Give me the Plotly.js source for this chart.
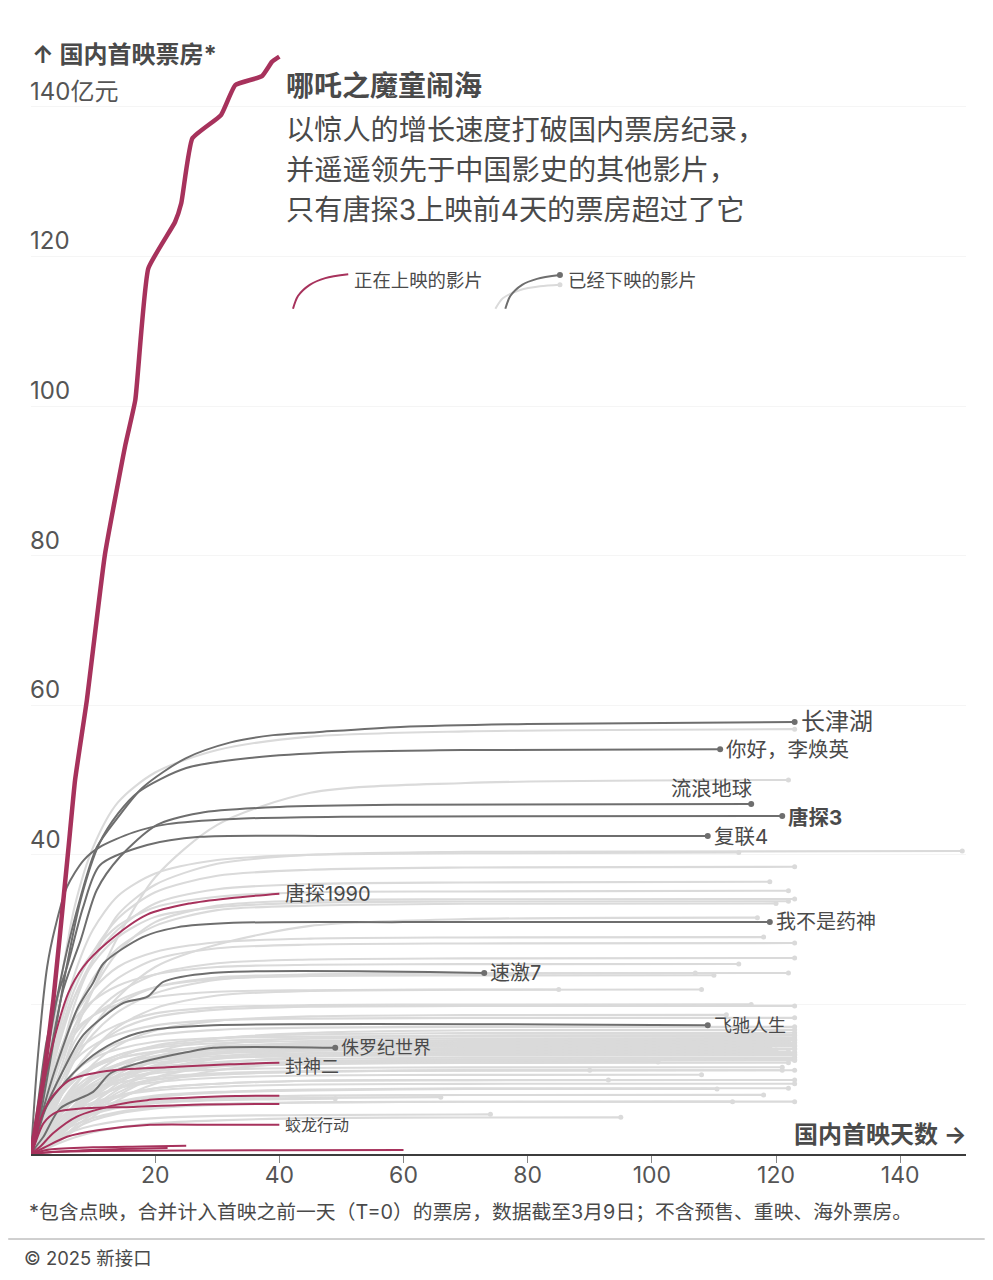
<!DOCTYPE html>
<html><head><meta charset="utf-8">
<script src="https://cdn.plot.ly/plotly-3.0.1.min.js"></script>
<style>html,body{margin:0;padding:0;background:#fff}</style></head>
<body><div id="chart" style="width:993px;height:1280px"></div>
<script>
const FONT = 'Inter, "Noto Sans CJK SC", sans-serif';
const xTicks = [20,40,60,80,100,120,140];
const yTicks = [40,60,80,100,120,140];
const yGrid = [20,40,60,80,100,120,140];

const nezhaDays = [0,1,2,3.6,6,7.1,9,11.9,15.2,16.8,18.9,23.2,24.2,26,30.6,32.9,37.2,38.8,40];
const nezhaVals = [0,4.9,10,20.6,40.6,50,60.7,80.1,94.8,100.8,118.4,124.6,127.1,135.8,138.9,142.9,144.1,146,146.7];

const darkNames = ['长津湖','你好，李焕英','流浪地球','唐探3','复联4','我不是药神','速激7','飞驰人生','侏罗纪世界'];
const darkDays = [
 [0,1,2.5,5.2,8,10.6,14,18,24.9,32,39,46,59.5,80,123],
 [0,1,3,5.5,8,11,14,17.3,25,36,49,70,111],
 [0,1,3,5.2,8,10.6,14.3,20.3,27.2,40,60,116],
 [0,1,2.6,3.9,5.8,8.5,11,16.5,22,32.6,50,121],
 [0,1,2.5,4.4,5.8,8.4,11.1,18.7,27.2,50,109],
 [0,1,3,5,7.5,10,11.7,18,23.5,32.6,60,119],
 [0,1,2,5.2,8.4,14.9,18.7,21.3,29,73],
 [0,1,2.5,5.8,10,14.9,19.7,29.4,109],
 [0,1,2,4.7,10,12.8,18,25,29.4,49]
];
const darkVals = [
 [0,5,13,25,34.4,41,45,49,52.9,55,56,56.4,57.1,57.5,57.75],
 [0,3,12,24,34,41.5,45.5,48.4,51.6,53,53.7,54,54.1],
 [0,4,13,22,28.6,35.3,39.7,44,45.6,46.4,46.7,46.8],
 [0,12,25,30.3,35.7,39.3,41,43,44.1,44.8,45.1,45.2],
 [0,6,15,21.5,25,33,38.6,41.3,42.4,42.5,42.5],
 [0,3,9,14,19.5,22.9,25.5,29,30.3,30.9,31,31],
 [0,3,5.5,11.2,15.9,20.2,21,23,24.2,24.2],
 [0,2.5,6.3,9.9,13.2,15.5,16.6,17.2,17.2],
 [0,1.2,2.3,6.1,8.3,10.8,12.3,13.6,14.2,14.2]
];

const redNames = ['唐探1990','封神二','','','蛟龙行动','','',''];
const redDays = [
 [0,1,3,6,8.4,12.2,18.7,25.6,32,40],
 [0,0.5,1.5,3,6.3,12.2,21.9,32,40],
 [0,1.5,3.6,7.4,13.9,18.7,24.6,33,40],
 [0,0.5,2,4.1,8.4,16.5,26,40],
 [0,2,5.8,11,19.2,30,40],
 [0,3,10,18,25],
 [0,3,10,40,60],
 [0,4,12,22]
];
const redVals = [
 [0,5,13,21.5,25,28.2,32,33.5,34.2,34.8],
 [0,1.2,4.5,7.2,9.9,11.1,11.6,12,12.2],
 [0,1,2.8,5,6.6,7.2,7.5,7.75,7.8],
 [0,1,4.1,5.6,6.1,6.3,6.6,6.7],
 [0,0.8,2.3,3.2,3.9,3.9,3.9],
 [0,0.6,0.9,1,1.1],
 [0,0.25,0.4,0.5,0.55],
 [0,0.3,0.6,0.8]
];

const greyDays = [0,1,2,3,5,7,10,14,20,30,45,70];
const greyEndDays = [123,122,114,150,123,119,122,123,122,120,117,118,123,123,114,122,110,107,85,108,
 116,123,123,112,123,123,123,123,123,122,123,123,119,123,120,123,123,123,123,114,
 101,122,121,121,123,90,108,123,123,93,122,110.5,118,123,113,95,74,66,49,123,
 123,123,123,123,123,122,123,123,123,123];
const greyEndVals = [56.8,50,40.3,40.5,38.4,36.4,35.2,34.1,33.8,33.5,31.6,29,28.2,26.2,25.4,24.2,23.9,24.2,22,22,
 20,19.8,18.2,18.6,17,16.2,15.8,15.5,15.2,15,14.7,14.4,14.2,14,13.9,13.6,13.4,13.2,12.9,14.6,
 12.3,12.2,11.6,11.2,11.2,11.2,10.6,9.9,9.4,9.9,8.8,8.7,7.9,7,7,4.9,5.3,7.6,7.4,12.5,
 15.9,15.3,14.9,14.5,14.1,13.7,13.3,12.7,16.6,12.6];
const greyCurves = [
 [4,9,14,24,33,41,47,51,54,55.8,56.5],
 [1.5,3.5,6,11,16,22,29,37,44,48.3,49.6],
 [3,7,11,18,24,30,34.5,37.5,39.3,40,40.2],
 [2,5,8,14,20,26,32,36,38.8,40,40.4],
 [3,7,11,17,22,27,31.5,35,37.2,38,38.3],
 [2.5,6,10,16,21,26,30,33.5,35.4,36.1,36.3],
 [4,8,12,18,23,27,30.5,33,34.4,35,35.1],
 [1.5,4,7,12,17,22,27,31,33.2,33.9,34.05],
 [3,7,10.5,16.5,21,25.5,29,31.7,33,33.6,33.75],
 [2,5,8,13.5,18.5,23.5,27.5,30.5,32.6,33.2,33.45],
 [1,3,5,9,13,17,21,25,28,30.5,31.4],
 [2.5,6,9,14.5,18.5,22,25,27,28.3,28.8,28.95],
 [2,5,8,13,17,20.5,23.5,26,27.5,28,28.15],
 [1.5,4,6.5,11,15,18.5,21.5,24,25.5,26,26.15],
 [3,6.5,9.5,14.5,18,20.5,22.5,24,25,25.3,25.38],
 [1,3,5,9,12.5,16,19,21.5,23.3,24,24.15],
 [2.5,5.5,8.5,13,16,18.5,20.5,22.3,23.4,23.8,23.88],
 [1.5,3.5,6,10,13.5,17,20,22.3,23.6,24,24.15],
 [3,6,9,13.5,16.5,18.5,20,21,21.7,21.9,22],
 [1,2.5,4.5,8,11,14,17,19.5,21.2,21.8,21.95],
 [2,4.5,7,11,13.5,15.5,17.3,18.8,19.6,19.9,19.98],
 [1,2.5,4.5,8,11,14,16.5,18.3,19.3,19.7,19.78],
 [2,4.5,6.5,10,12.5,14.5,16,17.2,17.9,18.1,18.18],
 [0.8,2,3.5,6.5,9,12,14.5,16.5,17.8,18.4,18.56],
 [1.6,3.5,5.5,8.5,11,13,14.8,15.9,16.6,16.9,16.98],
 [0.6,1.5,3,5.5,8,10.5,12.8,14.5,15.5,16,16.16],
 [2,4,6,9,11,12.8,14,15,15.5,15.7,15.78],
 [1,2.5,4,7,9.3,11.5,13.2,14.4,15.1,15.4,15.48],
 [1.5,3.3,5,8,10,11.8,13.2,14.2,14.8,15.1,15.18],
 [0.7,1.8,3,5.5,7.8,10,12,13.5,14.4,14.8,14.97],
 [1.8,3.6,5.2,8,9.8,11.5,12.8,13.7,14.3,14.6,14.68],
 [1,2.3,3.6,6.2,8.2,10.2,11.8,13.1,13.9,14.3,14.38],
 [0.5,1.2,2.3,4.5,6.6,9,11,12.7,13.6,14,14.18],
 [1.4,2.8,4.4,7,8.8,10.6,12,13,13.6,13.9,13.98],
 [0.8,2,3.2,5.6,7.6,9.5,11.2,12.6,13.4,13.8,13.88],
 [1.2,2.6,4,6.5,8.2,10,11.4,12.5,13.1,13.5,13.58],
 [0.4,1,2,4,6,8.2,10.2,11.8,12.8,13.2,13.38],
 [1.5,3,4.5,6.8,8.5,10,11.2,12.2,12.8,13.1,13.18],
 [0.9,2,3.2,5.4,7.2,9,10.4,11.6,12.3,12.7,12.88],
 [2,4,5.8,8.5,10.2,11.6,12.8,13.6,14.2,14.5,14.58],
 [1.3,2.7,4,6.2,7.8,9.2,10.4,11.3,11.9,12.2,12.28],
 [0.6,1.5,2.6,4.6,6.4,8.2,9.8,11,11.7,12,12.18],
 [1.1,2.4,3.6,5.6,7.2,8.7,9.9,10.8,11.3,11.5,11.58],
 [0.5,1.2,2.2,4,5.6,7.4,8.9,10,10.7,11,11.18],
 [1.4,2.8,4,5.9,7.2,8.5,9.5,10.3,10.8,11.1,11.18],
 [0.8,1.8,2.8,4.6,6,7.5,8.8,9.9,10.6,11,11.18],
 [1,2.1,3.2,5,6.4,7.7,8.8,9.6,10.2,10.5,10.58],
 [0.7,1.5,2.4,4,5.3,6.6,7.8,8.8,9.4,9.8,9.88],
 [1,2,3,4.6,5.8,6.9,7.8,8.5,9,9.3,9.38],
 [0.5,1.1,1.9,3.4,4.8,6.2,7.6,8.8,9.4,9.8,9.88],
 [0.8,1.6,2.4,3.9,5,6.1,7,7.8,8.3,8.6,8.78],
 [0.4,1,1.7,3,4.2,5.5,6.7,7.6,8.2,8.5,8.68],
 [0.7,1.4,2.2,3.6,4.6,5.6,6.4,7,7.5,7.8,7.88],
 [0.3,0.8,1.3,2.4,3.4,4.5,5.4,6.1,6.6,6.9,6.98],
 [0.6,1.2,1.8,3,3.9,4.8,5.6,6.2,6.7,6.9,6.98],
 [0.2,0.5,0.9,1.6,2.2,2.9,3.5,4.1,4.5,4.8,4.88],
 [0.5,1,1.5,2.4,3.1,3.8,4.4,4.8,5.1,5.2,5.28],
 [0.8,1.5,2.2,3.5,4.5,5.5,6.3,6.9,7.3,7.5,7.58],
 [0.6,1.3,2,3.3,4.3,5.3,6.2,6.8,7.2,7.35,7.4],
 [1.2,2.5,3.8,6,7.6,9.2,10.5,11.4,12,12.3,12.45],
 [0.4,1,1.8,3.6,5.6,8,10.6,13,14.6,15.5,15.85],
 [0.5,1.2,2,3.8,5.6,7.8,10.2,12.4,14,14.9,15.25],
 [0.3,0.8,1.5,3,4.6,6.8,9.4,11.8,13.6,14.5,14.85],
 [0.6,1.4,2.3,4,5.6,7.6,9.8,11.9,13.4,14.2,14.45],
 [0.3,0.7,1.3,2.6,4.2,6.2,8.6,11,12.9,13.8,14.05],
 [0.4,1,1.7,3.2,4.8,6.8,9,11.1,12.7,13.4,13.65],
 [0.2,0.6,1.1,2.2,3.6,5.4,7.8,10.2,12.1,13,13.25],
 [0.4,0.9,1.5,2.8,4.2,6,8.2,10.2,11.7,12.4,12.65],
 [0.5,1.3,2.2,4,6,8.4,11.2,13.6,15.4,16.2,16.55],
 [0.2,0.5,1,2,3.2,5,7.2,9.4,11.2,12.2,12.55]
];

const legendRedDays = [42.2,43,44.9,47.4,51.1];
const legendRedVals = [113,114.7,116.2,117.1,117.6];
const legendDarkDays = [76.4,77.2,79.1,81.5,85.2];
const legendDarkVals = [113,114.7,116.2,117,117.5];
const legendLightDays = [74.8,76,78.8,82,85.2];
const legendLightVals = [113,114.4,115.5,116,116.2];

const RED='#a7325c', DARK='#6e6e6e', LIGHT='#dadada', TXT='#4a4a4a';
const traces=[];
function line(x,y,color,width,dot,smooth){
  traces.push({type:'scatter',mode:'lines',x,y,line:{color,width,shape:'spline',smoothing:smooth||0.8},hoverinfo:'skip',showlegend:false});
  if(dot) traces.push({type:'scatter',mode:'markers',x:[x[x.length-1]],y:[y[y.length-1]],
    marker:{color,size:dot},hoverinfo:'skip',showlegend:false});
}
greyCurves.forEach((c,i)=>{
  const end=greyEndDays[i];
  const xs=[],ys=[];
  greyDays.forEach((d,j)=>{ if(d<end){xs.push(d);ys.push(j===0?0:c[j-1]);} });
  xs.push(end);ys.push(greyEndVals[i]);
  line(xs,ys,LIGHT,2.1,5);
});
line(legendLightDays,legendLightVals,LIGHT,2,5);
darkDays.forEach((d,i)=>line(d,darkVals[i],DARK,2,6));
line(legendDarkDays,legendDarkVals,DARK,2,6);
redDays.forEach((d,i)=>line(d,redVals[i],RED,2));
line(legendRedDays,legendRedVals,RED,2);
line(nezhaDays,nezhaVals,RED,4.5,0,0.4);

const L=30.8,T=32,W=935.5,H=1122;
const px=x=>(x-L)/W, py=y=>1-(y-T)/H;
const ann=[];
function text(x,y,t,size,opt={}){
  ann.push(Object.assign({xref:'paper',yref:'paper',x:px(x),y:py(y),text:t,showarrow:false,
    xanchor:'left',yanchor:'middle',align:'left',xshift:opt.xanchor==='right'?3:-3,font:{family:FONT,size,color:TXT}},opt));
}
const B=s=>'<b>'+s+'</b>';
text(33,54,B('↑ 国内首映票房*'),24);
yTicks.forEach(v=>{
  ann.push({xref:'x',yref:'y',x:0,y:v,yshift:-1,xshift:-3,text:v===140?'140亿元':String(v),showarrow:false,xanchor:'left',yanchor:'bottom',
    font:{family:FONT,size:24,color:'#555'}});
});
text(287,86,B('哪吒之魔童闹海'),28);
text(287,130,'以惊人的增长速度打破国内票房纪录，',28.2);
text(287,170,'并遥遥领先于中国影史的其他影片，',28.2);
text(287,210,'只有唐探3上映前4天的票房超过了它',28.2);
text(355,280,'正在上映的影片',18.4);
text(569,280,'已经下映的影片',18.4);
const labelSizes={'长津湖':24,'你好，李焕英':20.5,'流浪地球':20.3,'唐探3':20.5,'复联4':20.5,'我不是药神':20,'速激7':20,'飞驰人生':18,'侏罗纪世界':18};
darkNames.forEach((n,i)=>{
  const xs=darkDays[i],ys=darkVals[i];
  const a={xref:'x',yref:'y',x:xs[xs.length-1],y:ys[ys.length-1],text:n==='唐探3'?B(n):n,showarrow:false,
    xanchor:'left',yanchor:'middle',xshift:4,font:{family:FONT,size:labelSizes[n],color:TXT}};
  if(n==='流浪地球'){a.xanchor='right';a.xshift=3;a.yshift=15;}
  if(n==='唐探3'){a.yshift=-2;}
  if(n==='长津湖'){a.yshift=1;}
  ann.push(a);
});
redNames.forEach((n,i)=>{
  if(!n) return;
  const xs=redDays[i],ys=redVals[i];
  ann.push({xref:'x',yref:'y',x:xs[xs.length-1],y:ys[ys.length-1],text:n,showarrow:false,xanchor:'left',yanchor:'middle',
    xshift:4,yshift:n==='封神二'?-4:0,font:{family:FONT,size:{'唐探1990':20,'封神二':18,'蛟龙行动':16}[n],color:TXT}});
});
text(966,1134,B('国内首映天数 →'),24,{xanchor:'right',align:'right'});
text(30,1212,'*包含点映，合并计入首映之前一天（T=0）的票房，数据截至3月9日；不含预售、重映、海外票房。',19.8);
text(25,1258,'© 2025 新接口',18.4);

Plotly.newPlot('chart',traces,{
  width:993,height:1280,autosize:false,
  margin:{l:L,t:T,r:993-L-W,b:1280-T-H,pad:0},
  paper_bgcolor:'#fff',plot_bgcolor:'#fff',showlegend:false,
  xaxis:{range:[0,150.6],tickmode:'array',tickvals:xTicks,ticks:'outside',ticklen:7,tickwidth:1,tickcolor:'#888',
    ticklabelstandoff:-8,showgrid:false,zeroline:false,showline:true,linecolor:'#3c3c3c',linewidth:2,
    tickfont:{family:FONT,size:23,color:'#555'}},
  yaxis:{range:[0,150],tickmode:'array',tickvals:yGrid,showticklabels:false,ticks:'',
    showgrid:true,gridcolor:'#f5f5f5',gridwidth:1,zeroline:false,showline:false},
  annotations:ann,
  shapes:[{type:'line',xref:'paper',yref:'paper',x0:px(8),x1:px(985),y0:py(1239),y1:py(1239),line:{color:'#a0a0a0',width:1}}]
},{staticPlot:true,displayModeBar:false});
</script></body></html>
